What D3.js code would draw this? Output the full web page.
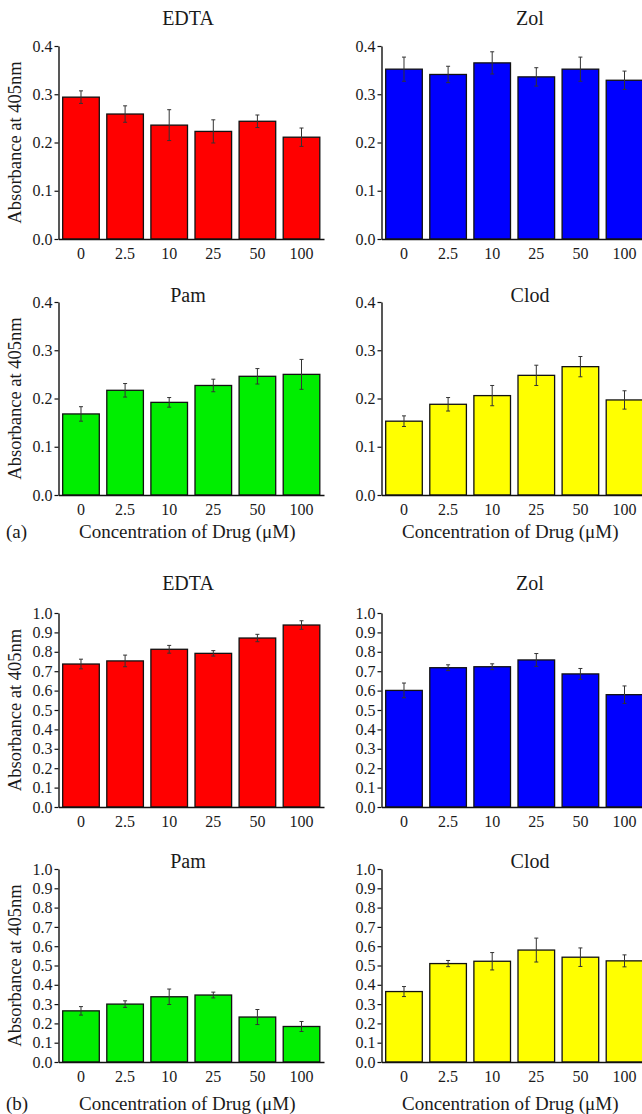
<!DOCTYPE html>
<html>
<head>
<meta charset="utf-8">
<script src="https://cdn.jsdelivr.net/npm/d3@7"></script>
<style>
  body { margin: 0; background: #fff; }
</style>
</head>
<body>
<div id="wrapper"></div>
<script>
// concentrations of drug (uM)
const doses = ["0", "2.5", "10", "25", "50", "100"];

// (a) absorbance at 405nm, mean and error
const edtaA = [0.294, 0.259, 0.236, 0.223, 0.244, 0.211];
const edtaAErr = [0.013, 0.017, 0.032, 0.024, 0.013, 0.019];
const zolA = [0.352, 0.341, 0.365, 0.336, 0.352, 0.329];
const zolAErr = [0.025, 0.017, 0.023, 0.019, 0.025, 0.019];
const pamA = [0.168, 0.217, 0.192, 0.227, 0.246, 0.250];
const pamAErr = [0.015, 0.014, 0.010, 0.013, 0.016, 0.031];
const clodA = [0.153, 0.188, 0.206, 0.248, 0.266, 0.197];
const clodAErr = [0.011, 0.014, 0.021, 0.021, 0.021, 0.019];

// (b)
const edtaB = [0.737, 0.753, 0.813, 0.792, 0.871, 0.938];
const edtaBErr = [0.025, 0.030, 0.020, 0.014, 0.019, 0.022];
const zolB = [0.601, 0.718, 0.723, 0.758, 0.686, 0.579];
const zolBErr = [0.038, 0.015, 0.015, 0.033, 0.028, 0.045];
const pamB = [0.265, 0.300, 0.338, 0.347, 0.233, 0.184];
const pamBErr = [0.022, 0.017, 0.040, 0.015, 0.039, 0.026];
const clodB = [0.365, 0.510, 0.522, 0.580, 0.543, 0.524];
const clodBErr = [0.026, 0.016, 0.045, 0.062, 0.048, 0.031];

const ticksA = [0, 0.1, 0.2, 0.3, 0.4];
const ticksB = [0, 0.1, 0.2, 0.3, 0.4, 0.5, 0.6, 0.7, 0.8, 0.9, 1.0];

const drugColor = { EDTA: "#ff0000", Zol: "#0000ff", Pam: "#00ee00", Clod: "#ffff00" };

var font = '"Liberation Serif", "Times New Roman", serif';
var width = 642, height = 1114;
var colX = [58.5, 381.5], plotW = 265.5;
var titleX = [188, 530];
var rows = [
  { top: 46, bottom: 239, max: 0.4, ticks: ticksA, titleY: 25 },
  { top: 302, bottom: 495, max: 0.4, ticks: ticksA, titleY: 302 },
  { top: 613, bottom: 807, max: 1.0, ticks: ticksB, titleY: 590 },
  { top: 869, bottom: 1062, max: 1.0, ticks: ticksB, titleY: 868 }
];

var panels = [
  { name: "EDTA", row: 0, col: 0, values: edtaA, err: edtaAErr },
  { name: "Zol", row: 0, col: 1, values: zolA, err: zolAErr },
  { name: "Pam", row: 1, col: 0, values: pamA, err: pamAErr },
  { name: "Clod", row: 1, col: 1, values: clodA, err: clodAErr },
  { name: "EDTA", row: 2, col: 0, values: edtaB, err: edtaBErr },
  { name: "Zol", row: 2, col: 1, values: zolB, err: zolBErr },
  { name: "Pam", row: 3, col: 0, values: pamB, err: pamBErr },
  { name: "Clod", row: 3, col: 1, values: clodB, err: clodBErr }
];

const svg = d3.select("#wrapper")
  .append("svg")
  .attr("width", width)
  .attr("height", height);

function drawPanel(p) {
  var r = rows[p.row];
  var x0 = colX[p.col];

  var x = d3.scaleBand()
    .domain(doses)
    .range([x0, x0 + plotW])
    .paddingInner(0.17)
    .paddingOuter(0.095);

  var y = d3.scaleLinear()
    .domain([0, r.max])
    .range([r.bottom, r.top]);

  var data = doses.map((d, i) => ({ dose: d, v: p.values[i], e: p.err[i] }));

  var g = svg.append("g");

  g.selectAll("rect.bar")
    .data(data)
    .enter()
    .append("rect")
    .attr("class", "bar")
    .attr("x", d => x(d.dose))
    .attr("width", x.bandwidth())
    .attr("y", d => y(d.v))
    .attr("height", d => y(0) - y(d.v))
    .style("fill", drugColor[p.name])
    .style("stroke", "#111")
    .style("stroke-width", 1.3);

  // error bars
  var cx = d => x(d.dose) + x.bandwidth() / 2;
  var eb = g.selectAll("g.err")
    .data(data)
    .enter()
    .append("g")
    .attr("class", "err")
    .style("stroke", "#333")
    .style("stroke-width", 1);
  eb.append("line")
    .attr("x1", cx)
    .attr("x2", cx)
    .attr("y1", d => y(d.v - d.e))
    .attr("y2", d => y(d.v + d.e));
  eb.append("line")
    .attr("x1", d => cx(d) - 2)
    .attr("x2", d => cx(d) + 2)
    .attr("y1", d => y(d.v + d.e))
    .attr("y2", d => y(d.v + d.e));
  eb.append("line")
    .attr("x1", d => cx(d) - 2)
    .attr("x2", d => cx(d) + 2)
    .attr("y1", d => y(d.v - d.e))
    .attr("y2", d => y(d.v - d.e));

  // axes
  var yAxis = g.append("g")
    .attr("transform", `translate(${x0},0)`)
    .call(d3.axisLeft(y).tickValues(r.ticks).tickFormat(d3.format(".1f")).tickSize(4).tickPadding(2).tickSizeOuter(0));
  var xAxis = g.append("g")
    .attr("transform", `translate(0,${r.bottom})`)
    .call(d3.axisBottom(x).tickSize(0).tickPadding(9).tickSizeOuter(0));

  [yAxis, xAxis].forEach(a => {
    a.attr("font-family", null).attr("font-size", null);
    a.select(".domain").style("stroke", "#111").style("stroke-width", 1.4);
    a.selectAll(".tick line").style("stroke", "#111").style("stroke-width", 1.2);
    a.selectAll(".tick text")
      .style("font-family", font)
      .style("font-size", "16px")
      .style("fill", "#1a1a1a");
  });

  g.append("text")
    .attr("x", titleX[p.col])
    .attr("y", r.titleY)
    .style("text-anchor", "middle")
    .style("font-family", font)
    .style("font-size", "20px")
    .style("fill", "#1a1a1a")
    .text(p.name);

  if (p.col == 0) {
    g.append("text")
      .attr("transform", `translate(21,${(r.top + r.bottom) / 2}) rotate(-90)`)
      .style("text-anchor", "middle")
      .style("font-family", font)
      .style("font-size", "18.5px")
      .style("fill", "#1a1a1a")
      .text("Absorbance at 405nm");
  }

  if (p.row == 1 || p.row == 3) {
    var labY = p.row == 1 ? 538 : 1110;
    g.append("text")
      .attr("x", x0 + plotW / 2 - 4)
      .attr("y", labY)
      .style("text-anchor", "middle")
      .style("font-family", font)
      .style("font-size", "19px")
      .style("fill", "#1a1a1a")
      .text("Concentration of Drug (\u03bcM)");
    if (p.col == 0) {
      g.append("text")
        .attr("x", 6)
        .attr("y", labY)
        .style("font-family", font)
        .style("font-size", "19px")
        .style("fill", "#1a1a1a")
        .text(p.row == 1 ? "(a)" : "(b)");
    }
  }
}

panels.forEach(drawPanel);
</script>
</body>
</html>
